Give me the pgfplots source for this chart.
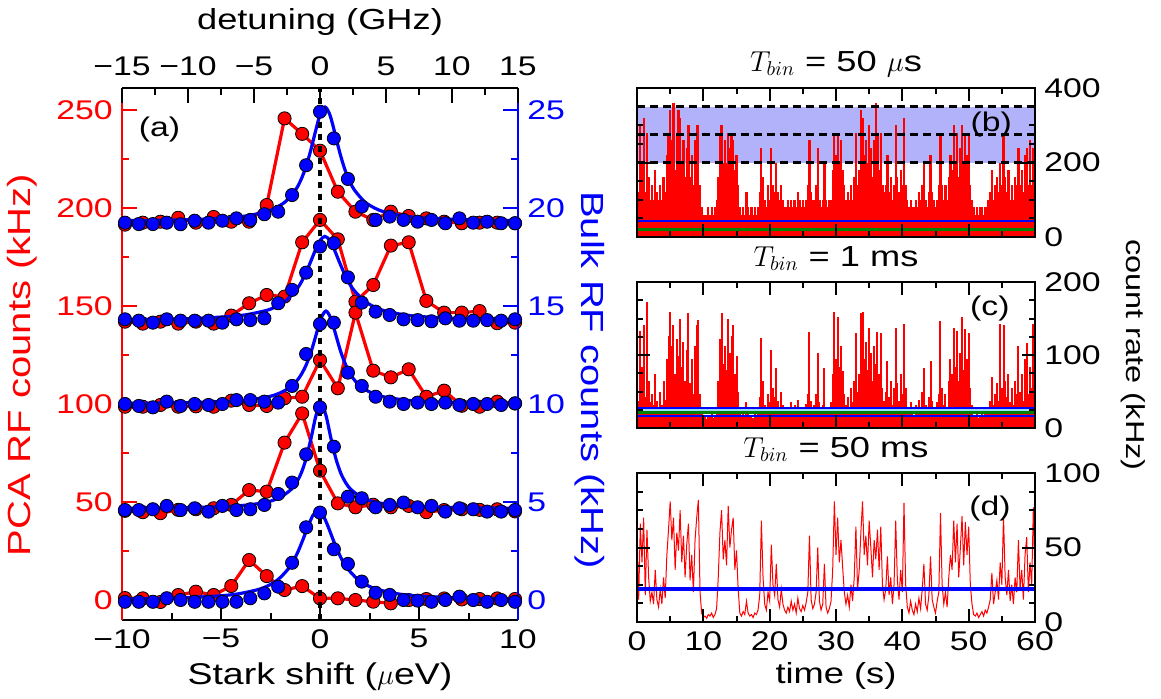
\documentclass[border=0pt]{standalone}
\usepackage{fontspec}
\setmainfont{Liberation Sans}[FakeStretch=1.25]
\usepackage{pgfplots}
\usepackage{pgfplotstable}
\pgfplotsset{compat=1.18}
\definecolor{bandblue}{rgb}{0.7,0.7,0.98}
\definecolor{dgreen}{rgb}{0,0.5,0}

\pgfplotstableread{
x r1 r2 r3 r4 r5
-9.85 191.5 142 98.6 45.5 1.0
-8.95 192.5 141 98.6 44.8 0.85
-8.06 193 142 99.5 44.3 -1.0
-7.16 195 141 98.6 46 2.55
-6.27 192.5 142 98.8 46.3 4.25
-5.37 195.4 141 98.6 46.8 2.55
-4.48 193 145.1 101.7 48.5 7.14
-3.58 193 151.4 99.5 56.1 20.4
-2.69 201.5 155.6 99 55.3 12.2
-1.79 245.7 154.8 102.9 80.3 5.1
-0.90 237.8 182.5 103.7 95.2 7.1
0 229.2 193.9 122.4 66.0 0.85
0.90 208.3 184 108.0 49.3 0.85
1.79 198.1 152.2 146.6 47.3 0
2.69 193.9 160.7 117.0 48.6 -0.85
3.58 198.1 180.8 113.6 47.3 -1.7
4.48 195.9 182.5 117.7 48.0 0
5.37 194.7 152.6 103.7 44.8 0.5
6.27 193 146.6 106.8 45.9 0.8
7.16 192.2 146.6 99.1 46.3 0.3
8.06 192.5 147.4 98.6 46 0.5
8.95 192.5 141.2 101.2 46.3 0.8
9.85 192.2 141.5 100.3 45.2 0.5
}\redtab

\pgfplotstableread{
x b1 b2 b3 b4 b5
-9.85 19.25 14.32 10.0 4.59 -0.09
-9.15 19.18 14.25 9.9 4.59 -0.09
-8.44 19.18 14.15 9.83 4.63 -0.09
-7.74 19.25 14.32 10.12 4.8 0.09
-7.04 19.17 14.25 9.9 4.59 0
-6.33 19.35 14.25 10.0 4.68 -0.09
-5.63 19.25 14.25 9.95 4.51 -0.09
-4.93 19.35 14.15 10.0 4.8 -0.09
-4.22 19.47 14.32 10.2 4.59 -0.09
-3.52 19.39 14.28 10.2 4.63 0.09
-2.81 19.68 14.37 10.12 4.85 0.34
-2.11 19.81 15.14 10.07 5.41 0.68
-1.41 20.66 15.82 10.92 5.99 1.9
-0.70 22.18 16.70 12.55 7.43 3.71
0 24.91 18.03 14.08 9.83 4.46
0.70 23.55 18.2 14.15 7.82 2.59
1.41 21.48 16.46 11.6 5.27 1.84
2.11 20.07 15.17 10.92 5.19 0.94
2.81 19.39 14.71 10.37 4.73 0.37
3.52 19.56 14.54 10.12 4.85 0.26
4.22 19.39 14.32 10.0 4.97 0.0
4.93 19.30 14.28 10.07 4.73 -0.03
5.63 19.39 14.22 10.0 4.8 -0.09
6.33 19.22 14.37 10.07 4.51 0.0
7.04 19.47 14.25 9.95 4.68 0.17
7.74 19.25 14.25 10.0 4.63 0.0
8.44 19.30 14.28 10.0 4.51 -0.09
9.15 19.22 14.25 9.95 4.51 0.0
9.85 19.22 14.32 10.03 4.59 -0.09
}\bluetab

\pgfplotstableread{
t b c d
0 280 122 60
0.25 120 37 15
0.5 300 133 66
0.75 200 84 40
1 320 141 70
1.25 120 42 18
1.5 280 173 62
1.75 160 65 30
2 100 35 14
2.25 140 46 20
2.5 100 31 12
2.75 180 74 35
3 120 37 15
3.25 100 27 10
3.5 140 50 22
3.75 100 31 12
4 160 65 30
4.25 120 38 16
4.5 220 94 45
4.75 280 126 62
5 340 159 81
5.25 260 112 55
5.5 360 141 70
5.75 180 74 35
6 280 122 60
6.25 340 99 48
6.5 320 150 75
6.75 200 84 40
7 260 118 58
7.25 160 65 30
7.5 240 107 52
7.75 300 157 66
8 160 61 28
8.25 220 94 45
8.5 140 46 20
8.75 260 112 55
9 300 141 70
9.25 300 148 82
9.5 140 46 20
9.75 80 19 6
10 60 14 3
10.25 60 16 4
10.5 60 13 2.5
10.75 80 18 5
11 60 16 4
11.25 80 19 6
11.5 60 14 3
11.75 80 18 5
12 100 25 9
12.25 160 65 30
12.5 280 122 60
12.75 300 157 75
13 200 88 42
13.25 260 112 55
13.5 200 80 38
13.75 280 150 78
14 240 103 50
14.25 280 126 62
14.5 260 141 70
14.75 180 74 35
15 220 99 48
15.25 140 50 22
15.5 80 19 6
15.75 60 16 4
16 80 21 7
16.25 60 18 5
16.5 120 35 14
16.75 80 19 6
17 60 16 4
17.25 80 18 5
17.5 60 14 3
17.75 80 19 6
18 60 18 5
18.25 80 23 8
18.5 120 42 18
18.75 240 123 68
19 160 65 30
19.25 100 31 12
19.5 80 23 8
19.75 140 46 20
20 100 35 14
20.25 240 107 52
20.5 140 55 25
20.75 120 42 18
21 200 82 39
21.25 120 37 15
21.5 100 27 10
21.75 140 50 22
22 100 31 12
22.25 80 23 8
22.5 80 19 6
22.75 100 27 10
23 80 21 7
23.25 100 35 14
23.5 80 23 8
23.75 100 31 12
24 80 19 6
24.25 120 38 16
24.5 100 25 9
24.75 80 21 7
25 100 29 11
25.25 80 23 8
25.5 100 33 13
25.75 140 46 20
26 260 132 58
26.25 120 37 15
26.5 100 25 9
26.75 100 31 12
27 140 46 20
27.25 240 103 50
27.5 100 35 14
27.75 80 23 8
28 100 31 12
28.25 200 82 39
28.5 100 27 10
28.75 80 19 6
29 100 25 9
29.25 100 35 14
29.5 180 74 35
29.75 280 159 81
30 220 94 45
30.25 280 152 70
30.5 200 84 40
30.75 260 112 55
31 180 78 37
31.25 140 46 20
31.5 100 31 12
31.75 120 42 18
32 100 27 10
32.25 140 55 25
32.5 100 35 14
32.75 160 65 30
33 280 130 64
33.25 140 50 22
33.5 180 74 35
33.75 340 157 60
34 320 159 81
34.25 220 94 45
34.5 260 118 58
34.75 200 80 38
35 300 137 68
35.25 240 103 50
35.5 160 65 30
35.75 260 112 55
36 360 88 42
36.25 280 132 62
36.5 180 74 35
36.75 280 130 64
37 140 55 25
37.25 120 37 15
37.5 140 50 22
37.75 220 92 44
38 120 42 18
38.25 160 65 30
38.5 100 31 12
38.75 140 55 25
39 300 137 68
39.25 160 61 28
39.5 120 37 15
39.75 180 74 35
40 140 46 20
40.25 320 143 80
40.5 140 55 25
40.75 100 27 10
41 80 19 6
41.25 100 35 14
41.5 80 23 8
41.75 80 18 5
42 100 31 12
42.25 80 21 7
42.5 120 38 16
42.75 100 25 9
43 140 50 22
43.25 200 82 39
43.5 100 31 12
43.75 80 23 8
44 120 42 18
44.25 220 92 44
44.5 120 37 15
44.75 100 27 10
45 80 19 6
45.25 100 35 14
45.5 140 46 20
45.75 280 146 73
46 140 55 25
46.25 100 31 12
46.5 140 46 20
46.75 100 27 10
47 160 65 30
47.25 220 94 45
47.5 180 74 35
47.75 300 137 68
48 200 84 40
48.25 280 133 66
48.5 160 65 30
48.75 240 103 50
49 300 152 71
49.25 200 80 38
49.5 280 135 67
49.75 220 94 45
50 280 130 64
50.25 140 55 25
50.5 100 31 12
50.75 80 18 5
51 60 16 4
51.25 80 19 6
51.5 60 14 3
51.75 80 18 5
52 80 21 7
52.25 60 16 4
52.5 80 23 8
52.75 80 19 6
53 100 27 10
53.25 120 37 15
53.5 180 70 33
53.75 100 31 12
54 140 46 20
54.25 160 61 28
54.5 120 37 15
54.75 200 143 40
55 140 55 25
55.25 280 141 71
55.5 160 65 30
55.75 120 42 18
56 180 74 35
56.25 100 35 14
56.5 140 55 25
56.75 100 31 12
57 160 65 30
57.25 140 46 20
57.5 240 112 55
57.75 140 50 22
58 180 74 35
58.25 120 37 15
58.5 220 94 45
58.75 240 116 57
59 140 46 20
59.25 260 84 40
59.5 140 55 25
59.75 240 143 77
60 160 65 30
}\timetab

\pgfplotsset{
  redpts/.style={red, line width=1.6pt, mark=*, mark size=3.3pt,
    mark options={solid, fill=red, draw=black, line width=0.4pt}},
  bluepts/.style={only marks, mark=*, mark size=3.3pt,
    mark options={fill=blue, draw=black, line width=0.4pt}},
  bluefit/.style={blue, line width=1.6pt, smooth, no marks},
  leftbox/.style={at={(61pt,39pt)}, anchor=south west, width=198pt, height=266pt,
    scale only axis, tick align=inside, major tick length=7.5pt, minor tick length=3.5pt},
  rpanel/.style={anchor=south west, width=199pt, scale only axis, xmin=0, xmax=60,
    axis on top, axis line style={line width=1.4pt}, tick align=inside,
    major tick length=6.5pt, minor tick length=3pt, tick style={black, line width=1pt},
    xtick={0,10,20,30,40,50,60}, minor x tick num=1, yticklabel pos=right,
    minor y tick num=3, clip=false,
    title style={at={(0.5,1)}, anchor=south, yshift=-5pt, font=\fontsize{14.5}{17}\selectfont}},
}

\begin{document}%
\fontsize{13.5}{16}\selectfont%
\begin{tikzpicture}[font=\fontsize{13.5}{16}\selectfont]
\useasboundingbox (0,0) rectangle (580.5pt,349pt);

% ---------- left panel: red axis ----------
\begin{axis}[leftbox,
  xmin=-10, xmax=10, ymin=-10.2, ymax=261.2,
  axis x line*=bottom, axis y line*=left,
  x axis line style={black, line width=1.4pt, -},
  y axis line style={red, line width=1.4pt, -},
  xtick={-10,-5,0,5,10}, xticklabels={−10,−5,0,5,10},
  minor xtick={-7.5,-2.5,2.5,7.5},
  ytick={0,50,100,150,200,250}, yticklabels={0,50,100,150,200,250},
  minor ytick={25,75,125,175,225},
  xtick style={black, line width=1pt}, ytick style={red, line width=1pt},
  yticklabel style={red},
  clip=false]
\addplot[redpts] table[x=x, y=r1] {\redtab};
\addplot[redpts] table[x=x, y=r2] {\redtab};
\addplot[redpts] table[x=x, y=r3] {\redtab};
\addplot[redpts] table[x=x, y=r4] {\redtab};
\addplot[redpts] table[x=x, y=r5] {\redtab};
\node[red, rotate=90, font=\fontsize{16}{19}\selectfont] at (rel axis cs:-0.2525,0.479) {PCA RF counts (kHz)};
\node[font=\fontsize{15}{18}\selectfont] at (rel axis cs:0.5,-0.106) {Stark shift ($\mu$eV)};
\node at (axis cs:-8.1,240) {(a)};
\end{axis}

% ---------- left panel: blue axis ----------
\begin{axis}[leftbox,
  xmin=-10, xmax=10, ymin=-1.02, ymax=26.12,
  axis x line=none, axis y line*=right,
  y axis line style={blue, line width=1.4pt, -},
  ytick={0,5,10,15,20,25}, yticklabels={0,5,10,15,20,25},
  minor ytick={2.5,7.5,12.5,17.5,22.5},
  ytick style={blue, line width=1pt}, yticklabel style={blue},
  clip=false]
\addplot[bluefit] coordinates {(-10,19.35) (-6.75,19.40) (-4.75,19.49) (-3.75,19.59) (-2.75,19.80) (-2.25,20.00) (-1.75,20.32) (-1.25,20.90) (-1.0,21.35) (-0.75,21.98) (-0.5,22.82) (-0.25,23.82) (0,24.75) (0.25,25.15) (0.5,24.75) (0.75,23.82) (1.0,22.82) (1.25,21.98) (1.5,21.35) (1.75,20.90) (2.25,20.32) (2.75,20.00) (3.25,19.80) (4.25,19.59) (5.25,19.49) (7.25,19.40) (10,19.35)};
\addplot[bluefit] coordinates {(-10,14.30) (-6.75,14.35) (-4.75,14.45) (-3.75,14.55) (-2.75,14.76) (-2.25,14.95) (-1.75,15.25) (-1.25,15.76) (-1.0,16.12) (-0.75,16.61) (-0.5,17.19) (-0.25,17.81) (0,18.34) (0.25,18.55) (0.5,18.34) (0.75,17.81) (1.0,17.19) (1.25,16.61) (1.5,16.12) (1.75,15.76) (2.25,15.25) (2.75,14.95) (3.25,14.76) (4.25,14.55) (5.25,14.45) (7.25,14.35) (10,14.30)};
\addplot[bluefit] coordinates {(-10,10.03) (-6.7,10.07) (-4.7,10.13) (-3.7,10.20) (-2.7,10.35) (-2.2,10.49) (-1.7,10.73) (-1.2,11.15) (-0.95,11.50) (-0.7,11.99) (-0.45,12.66) (-0.2,13.52) (0.05,14.36) (0.3,14.74) (0.55,14.36) (0.8,13.52) (1.05,12.66) (1.3,11.99) (1.55,11.50) (1.8,11.15) (2.3,10.73) (2.8,10.49) (3.3,10.35) (4.3,10.20) (5.3,10.13) (7.3,10.07) (10,10.03)};
\addplot[bluefit] coordinates {(-10,4.68) (-6.95,4.71) (-4.95,4.76) (-3.95,4.82) (-2.95,4.94) (-2.45,5.06) (-1.95,5.27) (-1.45,5.65) (-1.2,5.98) (-0.95,6.47) (-0.7,7.22) (-0.45,8.26) (-0.2,9.42) (0.05,10.0) (0.3,9.42) (0.55,8.26) (0.8,7.22) (1.05,6.47) (1.3,5.98) (1.55,5.65) (2.05,5.27) (2.55,5.06) (3.05,4.94) (4.05,4.82) (5.05,4.76) (7.05,4.71) (10,4.68)};
\addplot[bluefit] coordinates {(-10,0.05) (-7.1,0.11) (-5.1,0.21) (-4.1,0.32) (-3.1,0.54) (-2.6,0.74) (-2.1,1.06) (-1.6,1.59) (-1.35,1.98) (-1.1,2.49) (-0.85,3.11) (-0.6,3.77) (-0.35,4.33) (-0.1,4.55) (0.15,4.33) (0.4,3.77) (0.65,3.11) (0.9,2.49) (1.15,1.98) (1.4,1.59) (1.9,1.06) (2.4,0.74) (2.9,0.54) (3.9,0.32) (4.9,0.21) (6.9,0.11) (10,0.05)};
\addplot[bluepts] table[x=x, y=b1] {\bluetab};
\addplot[bluepts] table[x=x, y=b2] {\bluetab};
\addplot[bluepts] table[x=x, y=b3] {\bluetab};
\addplot[bluepts] table[x=x, y=b4] {\bluetab};
\addplot[bluepts] table[x=x, y=b5] {\bluetab};
\addplot[black, line width=1.6pt, dash pattern=on 3pt off 3pt] coordinates {(0,-1.02) (0,26.12)};
\node[blue, rotate=-90, font=\fontsize{16}{19}\selectfont] at (rel axis cs:1.182,0.451) {Bulk RF counts (kHz)};
\end{axis}

% ---------- left panel: top axis ----------
\begin{axis}[leftbox,
  xmin=-15, xmax=15, ymin=0, ymax=1,
  axis x line*=top, axis y line=none,
  x axis line style={black, line width=1.4pt, -},
  xtick={-15,-10,-5,0,5,10,15}, xticklabels={−15,−10,−5,0,5,10,15},
  minor xtick={-12.5,-7.5,-2.5,2.5,7.5,12.5},
  xtick style={black, line width=1pt},
  xticklabel style={yshift=1.5pt}, clip=false]
\node[font=\fontsize{14.5}{17}\selectfont] at (rel axis cs:0.5,1.124) {detuning (GHz)};
\end{axis}

% ---------- panel (b) ----------
\begin{axis}[rpanel, at={(318.5pt,230.5pt)}, height=74.5pt,
  ymin=0, ymax=400, ytick={0,200,400}, yticklabels={0,200,400},
  xticklabels={}, title={$T_{bin}$ = 50 $\mu$s}]
\addplot[fill=bandblue, draw=none] coordinates {(0,200) (60,200) (60,350) (0,350)};
\addplot[ycomb, red, line width=1.1pt, no marks] table[x=t, y=b] {\timetab};
\addplot[black, line width=1.2pt, dash pattern=on 4pt off 2.5pt] coordinates {(0,200) (60,200)};
\addplot[black, line width=1.2pt, dash pattern=on 4pt off 2.5pt] coordinates {(0,275) (60,275)};
\addplot[black, line width=1.2pt, dash pattern=on 4pt off 2.5pt] coordinates {(0,350) (60,350)};
\addplot[blue, line width=1pt] coordinates {(0,43) (60,43)};
\addplot[dgreen, line width=1.6pt] coordinates {(0,20.6) (60,20.6)};
\node at (axis cs:53.4,303) {(b)};
\end{axis}

% ---------- panel (c) ----------
\begin{axis}[rpanel, at={(318.5pt,135pt)}, height=73pt,
  ymin=0, ymax=200, ytick={0,100,200}, yticklabels={0,100,200},
  xticklabels={}, title={$T_{bin}$ = 1 ms}]
\addplot[ycomb, red, line width=1pt, no marks] table[x=t, y=c] {\timetab};
\addplot[blue, line width=1pt] coordinates {(0,27) (60,27)};
\addplot[cyan!40, line width=1pt] coordinates {(0,24) (60,24)};
\addplot[dgreen, line width=1.2pt] coordinates {(0,21) (60,21)};
\addplot[blue, line width=1pt] coordinates {(0,16) (60,16)};
\node at (axis cs:53.2,164) {(c)};
\node[rotate=-90, font=\fontsize{13}{16}\selectfont] at (rel axis cs:1.246,0.5) {count rate (kHz)};
\end{axis}

% ---------- panel (d) ----------
\begin{axis}[rpanel, at={(318.5pt,38pt)}, height=74.5pt,
  ymin=0, ymax=100, ytick={0,50,100}, yticklabels={0,50,100},
  xticklabels={0,10,20,30,40,50,60}, title={$T_{bin}$ = 50 ms}]
\addplot[red, line width=0.5pt] table[x=t, y=d] {\timetab};
\addplot[blue, line width=2pt] coordinates {(0,22) (60,22)};
\node at (axis cs:53.2,76.5) {(d)};
\node[font=\fontsize{14.5}{17}\selectfont] at (rel axis cs:0.5,-0.36) {time (s)};
\end{axis}
\end{tikzpicture}%
\end{document}
